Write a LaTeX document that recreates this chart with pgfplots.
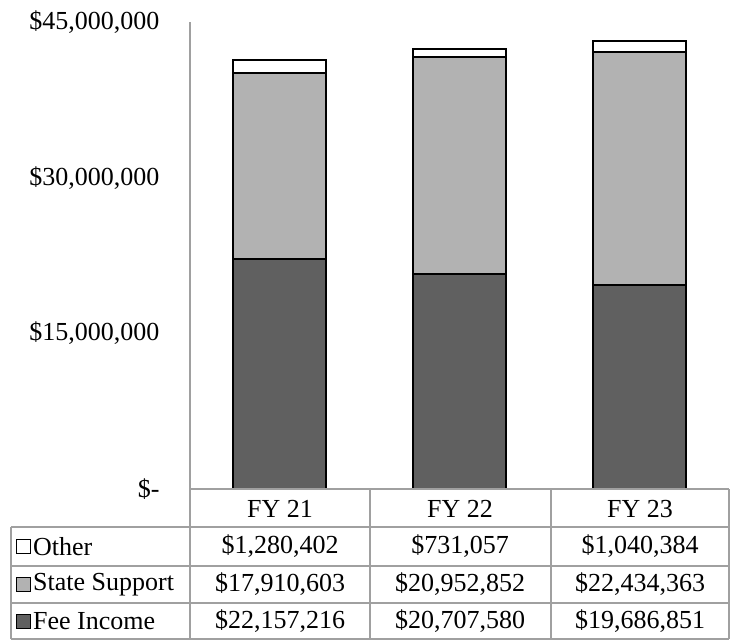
\documentclass[border=0pt]{standalone}
\usepackage{fontspec}
\setmainfont{Liberation Serif}
\usepackage{pgfplots}
\pgfplotsset{compat=1.18}
\definecolor{feec}{HTML}{606060}
\definecolor{statec}{HTML}{B2B2B2}
\definecolor{gridc}{HTML}{A0A0A0}
\begin{document}
\begin{tikzpicture}[x=1pt,y=1pt,font=\fontsize{26}{30}\selectfont]
\useasboundingbox (0,0) rectangle (733,640);
\begin{axis}[
  at={(190pt,151pt)}, anchor=south west,
  scale only axis, width=539pt, height=467pt,
  xmin=-0.5, xmax=2.5, ymin=0, ymax=45000000,
  ybar stacked, bar width=93pt,
  axis lines*=left,
  x axis line style={draw=none},
  y axis line style={draw=gridc, line width=1.5pt},
  xtick=\empty,
  ytick={0,15000000,30000000,45000000},
  yticklabels={{\$-},{\$15,000,000},{\$30,000,000},{\$45,000,000}},
  major tick length=0pt,
  tick label style={font=\fontsize{26}{30}\selectfont},
  yticklabel style={anchor=east, xshift=-27pt},
  scaled y ticks=false,
  clip=false,
]
\addplot[fill=feec, draw=black, line width=1.8pt] coordinates {(0,22157216) (1,20707580) (2,19686851)};
\addplot[fill=statec, draw=black, line width=1.8pt] coordinates {(0,17910603) (1,20952852) (2,22434363)};
\addplot[fill=white, draw=black, line width=1.8pt] coordinates {(0,1280402) (1,731057) (2,1040384)};
\end{axis}
% table
\begin{scope}[draw=gridc, line width=1.5pt]
\draw (190,151) -- (729,151);
\draw (11,113) -- (729,113);
\draw (11,74) -- (729,74);
\draw (11,37) -- (729,37);
\draw (11,1) -- (729,1);
\draw (11,1) -- (11,113);
\draw (190,1) -- (190,151);
\draw (370,1) -- (370,151);
\draw (551,1) -- (551,151);
\draw (729,1) -- (729,151);
\end{scope}
\node at (280,131) {FY 21};
\node at (460,131) {FY 22};
\node at (640,131) {FY 23};
% legend keys
\draw[black, line width=1pt, fill=white] (16,87) rectangle (30,101);
\draw[black, line width=1pt, fill=statec] (16,49) rectangle (30,63);
\draw[black, line width=1pt, fill=feec] (16,12) rectangle (30,26);
\node[anchor=west, inner sep=0pt] at (33,93.5) {Other};
\node[anchor=west, inner sep=0pt] at (33,55.5) {State Support};
\node[anchor=west, inner sep=0pt] at (33,18.5) {Fee Income};
\node at (280,93.5) {\$1,280,402};
\node at (460,93.5) {\$731,057};
\node at (640,93.5) {\$1,040,384};
\node at (280,55.5) {\$17,910,603};
\node at (460,55.5) {\$20,952,852};
\node at (640,55.5) {\$22,434,363};
\node at (280,18.5) {\$22,157,216};
\node at (460,18.5) {\$20,707,580};
\node at (640,18.5) {\$19,686,851};
\end{tikzpicture}
\end{document}
